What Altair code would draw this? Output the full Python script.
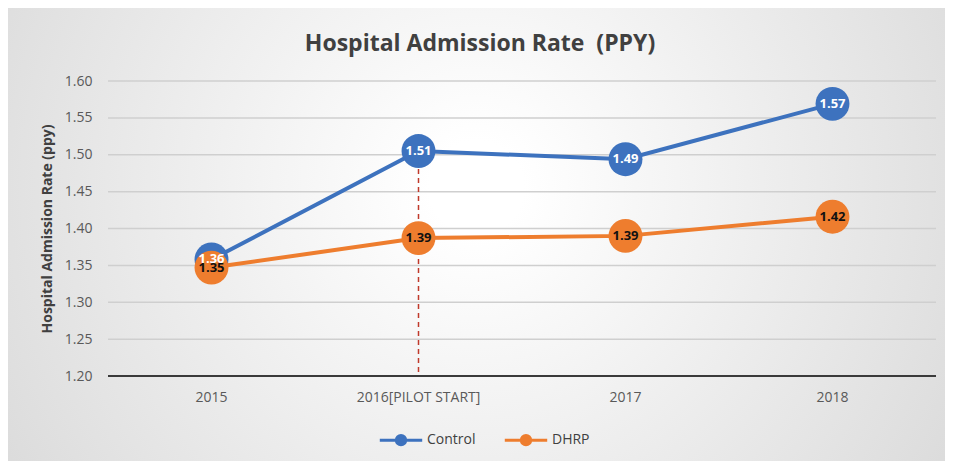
import altair as alt
import pandas as pd

years = ["2015", "2016[PILOT START]", "2017", "2018"]
control = [1.358, 1.505, 1.494, 1.569]
control_labels = ["1.36", "1.51", "1.49", "1.57"]
dhrp = [1.347, 1.387, 1.390, 1.416]
dhrp_labels = ["1.35", "1.39", "1.39", "1.42"]
y_ticks = [1.20, 1.25, 1.30, 1.35, 1.40, 1.45, 1.50, 1.55, 1.60]
pilot_year = "2016[PILOT START]"

rows = []
for i, yr in enumerate(years):
    rows.append({"year": yr, "series": "Control", "value": control[i], "label": control_labels[i], "ord": 0})
for i, yr in enumerate(years):
    rows.append({"year": yr, "series": "DHRP", "value": dhrp[i], "label": dhrp_labels[i], "ord": 1})
df = pd.DataFrame(rows)

pilot_df = pd.DataFrame({"year": [pilot_year], "top": [control[years.index(pilot_year)]], "bottom": [1.20]})
grid_df = pd.DataFrame({"value": y_ticks[1:]})

W, H = 828, 295
FONT = "Open Sans"

y_axis = alt.Axis(values=y_ticks, format=".2f", labelFontSize=14, labelColor="#595959",
                  labelPadding=16, ticks=False, domain=False, grid=False, labelOverlap=False,
                  titleFontSize=14, titleFontWeight="bold", zindex=1,
                  titleColor="#404040", titlePadding=10, labelFont=FONT, titleFont=FONT)
x_axis = alt.Axis(labelAngle=0, labelAlign="center", labelBaseline="top",
                  labelFontSize=14, labelColor="#595959", labelPadding=14,
                  ticks=False, domain=False, grid=False, labelFont=FONT, zindex=1)
Y_TITLE = "Hospital Admission Rate (ppy)"

x_enc = alt.X("year:N", sort=years, title=None, axis=x_axis)
y_scale = alt.Scale(domain=[1.2, 1.6], nice=False, zero=False)
y_enc = alt.Y("value:Q", scale=y_scale, title=Y_TITLE, axis=y_axis)

color_scale = alt.Scale(domain=["Control", "DHRP"], range=["#3d72be", "#ee7d2e"])

bg = alt.Chart(alt.Data(values=[{"a": 1}])).mark_rect(
    color={"gradient": "radial", "x1": 0.5, "y1": 0.45, "r1": 0.05, "x2": 0.5, "y2": 0.45, "r2": 0.8,
           "stops": [{"offset": 0, "color": "#ffffff"}, {"offset": 1, "color": "#cdcdcd"}]}
).encode(x=alt.value(-100), x2=alt.value(W + 9), y=alt.value(-73), y2=alt.value(H + 85))

grid = alt.Chart(grid_df).mark_rule(color="#cfcfcf", strokeWidth=1.5).encode(
    y=alt.Y("value:Q", scale=y_scale, title=Y_TITLE, axis=y_axis), x=alt.value(0), x2=alt.value(W))

base_axis_line = alt.Chart(alt.Data(values=[{"a": 1}])).mark_rule(color="#3a3a3a", strokeWidth=2).encode(
    x=alt.value(0), x2=alt.value(W), y=alt.value(H))

rule = alt.Chart(pilot_df).mark_rule(color="#c0392b", strokeDash=[5, 4], strokeWidth=1.5).encode(
    x=alt.X("year:N", sort=years, title=None, axis=x_axis),
    y=alt.Y("top:Q", scale=y_scale, title=Y_TITLE, axis=y_axis), y2="bottom:Q")

lines = alt.Chart(df).mark_line(strokeWidth=4).encode(
    x=x_enc, y=y_enc,
    color=alt.Color("series:N", scale=color_scale, title=None,
                    legend=alt.Legend(orient="none", legendX=270, legendY=336, direction="horizontal",
                                      labelFontSize=14, labelColor="#404040", labelFont=FONT,
                                      symbolType="M -1 0 L 1 0 M 0.22 0 A 0.22 0.22 0 1 1 -0.22 0 A 0.22 0.22 0 1 1 0.22 0 Z",
                                      symbolSize=1800, symbolStrokeWidth=3, columnPadding=22, labelOffset=3)),
    detail="series:N")

points = alt.Chart(df).mark_point(filled=True, size=1150, opacity=1).encode(
    x=x_enc, y=y_enc,
    color=alt.Color("series:N", scale=color_scale, legend=None),
    order="ord:Q")

text_ctrl = alt.Chart(df[df.series == "Control"]).mark_text(
    color="white", fontWeight="bold", fontSize=13, font=FONT).encode(
    x=x_enc, y=y_enc, text="label:N")

text_dhrp = alt.Chart(df[df.series == "DHRP"]).mark_text(
    color="#111111", fontWeight="bold", fontSize=13, font=FONT).encode(
    x=x_enc, y=y_enc, text="label:N")

chart = alt.layer(bg, grid, base_axis_line, rule, lines, points, text_ctrl, text_dhrp).properties(
    width=W, height=H,
    title=alt.TitleParams("Hospital Admission Rate\u00a0\u00a0(PPY)", fontSize=23, fontWeight="bold",
                          color="#404040", font=FONT, anchor="middle", dx=-42, dy=48, offset=0),
    autosize=alt.AutoSizeParams(type="none"),
    padding={"left": 100, "top": 73, "right": 9, "bottom": 85},
).configure_view(stroke=None).configure(background="#ffffff")

chart.save("out.html", embed_options={"renderer": "svg", "actions": False})
